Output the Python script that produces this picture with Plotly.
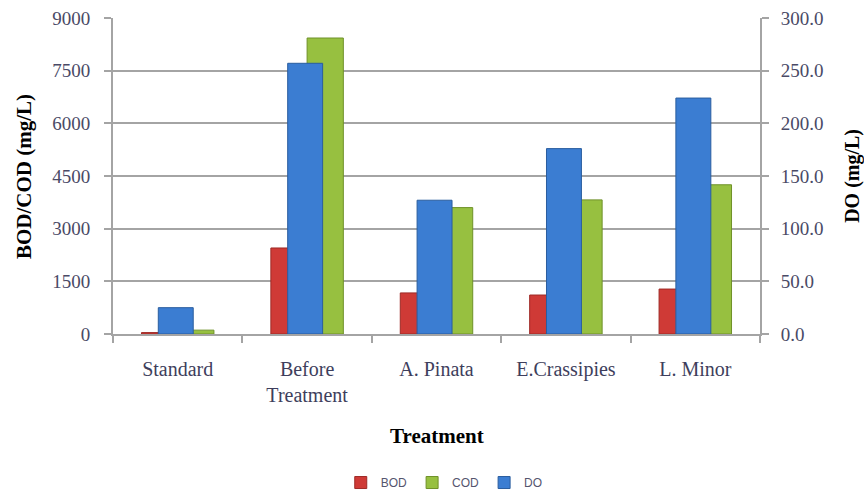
import plotly.graph_objects as go

# Water-quality parameters by treatment
categories = ["Standard", "Before<br>Treatment", "A. Pinata", "E.Crassipies", "L. Minor"]
bod = [40, 2450, 1170, 1110, 1280]      # mg/L, left axis
cod = [110, 8430, 3600, 3820, 4250]     # mg/L, left axis
do = [25, 257, 127, 176, 224]           # mg/L, right axis

left_ticks = [0, 1500, 3000, 4500, 6000, 7500, 9000]
left_ticktext = ["0", "1500", "3000", "4500", "6000", "7500", "9000"]
right_ticks = [0, 50, 100, 150, 200, 250, 300]
right_ticktext = ["0.0", "50.0", "100.0", "150.0", "200.0", "250.0", "300.0"]

RED, GREEN, BLUE = "#cf3a36", "#97c040", "#3b7dd2"
SERIF = "Liberation Serif, Times New Roman, serif"
TICK_COLOR = "#4a4a66"
GRID = "#a4a4a4"

fig = go.Figure()
fig.add_trace(go.Bar(
    name="BOD", x=categories, y=bod, offset=-0.28, width=0.28,
    marker=dict(color=RED, line=dict(color="#9e2a26", width=1)), yaxis="y"))
fig.add_trace(go.Bar(
    name="COD", x=categories, y=cod, offset=0.0, width=0.28,
    marker=dict(color=GREEN, line=dict(color="#6f9128", width=1)), yaxis="y"))
fig.add_trace(go.Bar(
    name="DO", x=categories, y=do, offset=-0.15, width=0.27,
    marker=dict(color=BLUE, line=dict(color="#2a5d9e", width=1)), yaxis="y2"))

fig.update_layout(
    width=864, height=497,
    margin=dict(l=113, r=104, t=18, b=163, autoexpand=False),
    paper_bgcolor="white", plot_bgcolor="white",
    barmode="overlay",
    showlegend=True,
    legend=dict(orientation="h", x=0.512, xanchor="center", y=-0.47, yanchor="middle",
                font=dict(family="Liberation Sans, Arial, sans-serif", size=12, color="#55556e"),
                itemwidth=30, traceorder="normal"),
    xaxis=dict(
        type="category", range=[-0.5, 4.5], automargin=False,
        showline=True, linecolor=GRID, linewidth=2,
        ticks="outside", tickson="boundaries", ticklen=7, tickcolor=GRID, tickwidth=2,
        showgrid=False,
        tickfont=dict(family=SERIF, size=20, color="#3e3e5c"),
        ticklabelstandoff=16,
    ),
    yaxis=dict(
        range=[0, 9000], tickvals=left_ticks, ticktext=left_ticktext, automargin=False,
        showline=True, linecolor=GRID, linewidth=2,
        ticks="outside", ticklen=7, tickcolor=GRID, tickwidth=2,
        showgrid=True, gridcolor=GRID, gridwidth=2, zeroline=False,
        tickfont=dict(family=SERIF, size=19, color=TICK_COLOR),
        ticklabelstandoff=10,
    ),
    yaxis2=dict(
        overlaying="y", side="right", automargin=False,
        range=[0, 300], tickvals=right_ticks, ticktext=right_ticktext,
        showline=True, linecolor=GRID, linewidth=2,
        ticks="outside", ticklen=7, tickcolor=GRID, tickwidth=2,
        showgrid=False, zeroline=False,
        tickfont=dict(family=SERIF, size=19, color=TICK_COLOR),
        ticklabelstandoff=8,
    ),
    annotations=[
        dict(text="<b>BOD/COD (mg/L)</b>", xref="paper", yref="paper",
             x=-0.1376, y=0.5, textangle=-90, showarrow=False,
             xanchor="center", yanchor="middle",
             font=dict(family=SERIF, size=21, color="black")),
        dict(text="<b>DO (mg/L)</b>", xref="paper", yref="paper",
             x=1.142, y=0.5, textangle=-90, showarrow=False,
             xanchor="center", yanchor="middle",
             font=dict(family=SERIF, size=20, color="black")),
        dict(text="<b>Treatment</b>", xref="paper", yref="paper",
             x=0.501, y=-0.323, showarrow=False,
             xanchor="center", yanchor="middle",
             font=dict(family=SERIF, size=21, color="black")),
    ],
)

fig.write_html("out.html")
